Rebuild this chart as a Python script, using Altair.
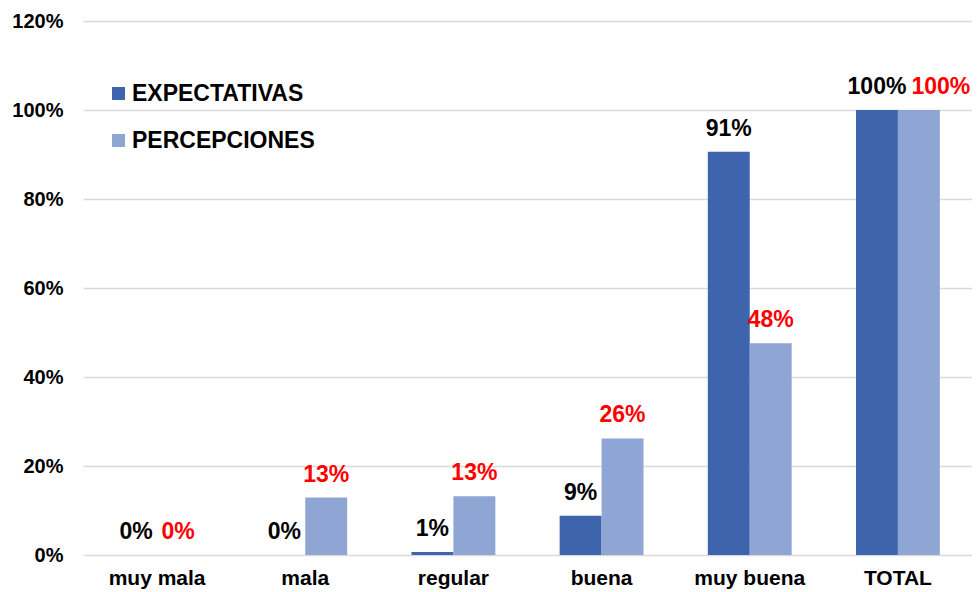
import altair as alt
import pandas as pd

categories = ["muy mala", "mala", "regular", "buena", "muy buena", "TOTAL"]
series = ["EXPECTATIVAS", "PERCEPCIONES"]
expectativas = [0.0, 0.0, 0.007, 0.088, 0.906, 1.0]
percepciones = [0.0, 0.129, 0.132, 0.262, 0.476, 1.0]

rows = []
for c, e, p in zip(categories, expectativas, percepciones):
    rows.append({"cat": c, "serie": series[0], "value": e})
    rows.append({"cat": c, "serie": series[1], "value": p})
df = pd.DataFrame(rows)

FONT = "Liberation Sans"

x = alt.X("cat:N", sort=categories, title=None,
          scale=alt.Scale(paddingInner=0.434, paddingOuter=0.217),
          axis=alt.Axis(labelAngle=0, labelFontSize=21, labelFontWeight="bold",
                        labelColor="black", labelFont=FONT, ticks=False, domain=False,
                        labelPadding=12))
y = alt.Y("value:Q", title=None,
          scale=alt.Scale(domain=[0, 1.2], nice=False),
          axis=alt.Axis(format=".0%", values=[0, 0.2, 0.4, 0.6, 0.8, 1.0, 1.2],
                        labelFontSize=20, labelFontWeight="bold", labelColor="black",
                        labelFont=FONT, ticks=False, domain=False, labelPadding=20,
                        gridColor="#d9d9d9", gridWidth=1.3))
xo = alt.XOffset("serie:N", sort=series)

bars = alt.Chart(df).mark_bar().encode(
    x=x, y=y, xOffset=xo,
    color=alt.Color("serie:N", sort=series,
                    scale=alt.Scale(domain=series, range=["#3D64AC", "#8FA5D4"]),
                    legend=alt.Legend(title=None, orient="none", legendX=24, legendY=61,
                                      symbolType="square", symbolSize=169,
                                      symbolStrokeWidth=0, labelFontSize=23,
                                      labelFontWeight="bold", labelFont=FONT,
                                      labelColor="black", rowPadding=23,
                                      labelOffset=2, labelLimit=400)),
)

text_color = alt.condition(alt.datum.serie == "EXPECTATIVAS",
                           alt.value("black"), alt.value("#FF0000"))

labels = alt.Chart(df).transform_filter(
    "!(datum.serie == 'PERCEPCIONES' && datum.cat == 'TOTAL')"
).mark_text(fontSize=23, fontWeight="bold", font=FONT, dy=-16,
            baseline="alphabetic").encode(
    x=x, y=y, xOffset=xo, text=alt.Text("value:Q", format=".0%"), color=text_color
)

labels_total = alt.Chart(df).transform_filter(
    "datum.serie == 'PERCEPCIONES' && datum.cat == 'TOTAL'"
).mark_text(fontSize=23, fontWeight="bold", font=FONT, dy=-16, dx=22,
            baseline="alphabetic").encode(
    x=x, y=y, xOffset=xo, text=alt.Text("value:Q", format=".0%"), color=text_color
)

chart = alt.layer(bars, labels, labels_total).properties(
    width=889, height=534,
    autosize=alt.AutoSizeParams(type="none"),
    padding={"left": 75, "top": 13, "right": 0, "bottom": 35},
).configure_view(stroke=None)

chart.save("out.html", embed_options={"renderer": "svg", "actions": False})
